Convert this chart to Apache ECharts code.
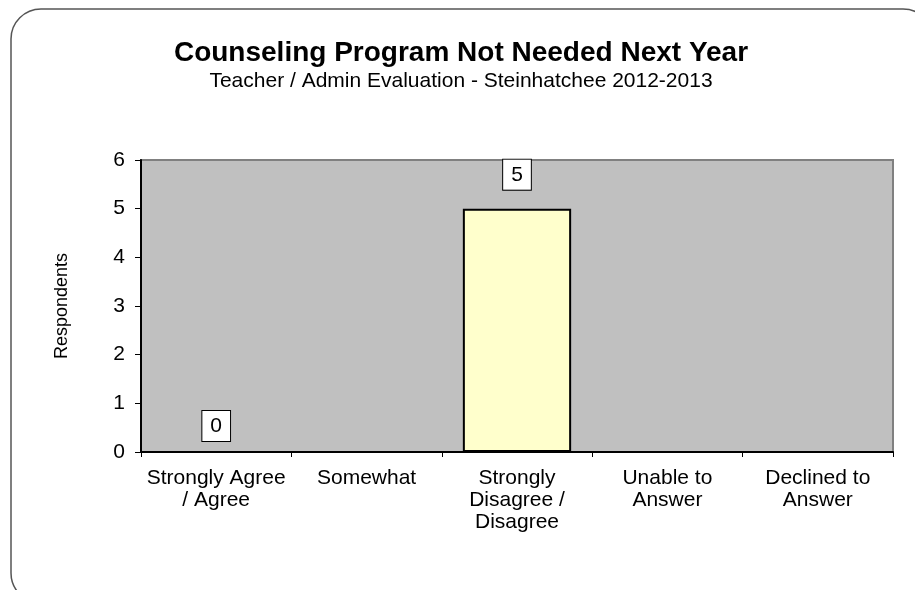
<!DOCTYPE html>
<html>
<head>
<meta charset="utf-8">
<script src="https://cdn.jsdelivr.net/npm/echarts@6/dist/echarts.min.js"></script>
<style>
  html, body { margin: 0; padding: 0; background: #fff; }
  #main { width: 915px; height: 590px; }
</style>
</head>
<body>
<div id="main"></div>
<script>
// data
var categories = ['Strongly Agree\n/ Agree', 'Somewhat', 'Strongly\nDisagree /\nDisagree', 'Unable to\nAnswer', 'Declined to\nAnswer'];
var respondents = [0, null, 5, null, null];
var yTicks = [0, 1, 2, 3, 4, 5, 6];

var chart = echarts.init(document.getElementById('main'));

var font = 'Liberation Sans, Arial, sans-serif';

var option = {
  animation: false,
  backgroundColor: '#fff',
  title: {
    text: 'Counseling Program Not Needed Next Year',
    subtext: 'Teacher / Admin Evaluation - Steinhatchee 2012-2013',
    left: 456,
    textAlign: 'center',
    top: 34,
    itemGap: 4,
    textStyle: { fontFamily: font, fontSize: 28, fontWeight: 'bold', color: '#000' },
    subtextStyle: { fontFamily: font, fontSize: 21, color: '#000' }
  },
  graphic: [{
    type: 'rect',
    shape: { x: 11, y: 9, width: 922, height: 594, r: 30 },
    style: { fill: 'none', stroke: '#555', lineWidth: 1.5 },
    z: -1
  }],
  grid: {
    left: 141, right: 22, top: 160, bottom: 138,
    show: true,
    backgroundColor: '#c0c0c0',
    borderColor: '#808080',
    borderWidth: 2
  },
  xAxis: {
    type: 'category',
    data: categories,
    axisLine: { lineStyle: { color: '#000', width: 2 } },
    axisTick: { show: true, length: 5, alignWithLabel: false, lineStyle: { color: '#000' } },
    axisLabel: { fontFamily: font, fontSize: 21, color: '#000', lineHeight: 22, margin: 15, interval: 0 },
    splitLine: { show: false }
  },
  yAxis: {
    type: 'value',
    min: yTicks[0],
    max: yTicks[yTicks.length - 1],
    interval: 1,
    name: 'Respondents',
    nameLocation: 'middle',
    nameGap: 70,
    nameTextStyle: { fontFamily: font, fontSize: 18, color: '#000' },
    axisLine: { show: true, lineStyle: { color: '#000', width: 2 } },
    axisTick: { show: true, length: 6, lineStyle: { color: '#000' } },
    axisLabel: { fontFamily: font, fontSize: 21, color: '#000', margin: 16 },
    splitLine: { show: false }
  },
  series: [{
    type: 'bar',
    data: respondents.map(function (v) {
      return { value: v, label: { distance: v === 0 ? 10 : 19 } };
    }),
    barWidth: '72%',
    itemStyle: { color: '#ffffcc', borderColor: '#000', borderWidth: 2 },
    label: {
      show: true,
      position: 'top',
      fontFamily: font,
      fontSize: 21,
      color: '#000',
      backgroundColor: '#fff',
      borderColor: '#000',
      borderWidth: 1,
      padding: [5, 8, 4, 8],
      formatter: function (p) { return p.value == null ? '' : p.value; }
    }
  }]
};

chart.setOption(option);
</script>
</body>
</html>
